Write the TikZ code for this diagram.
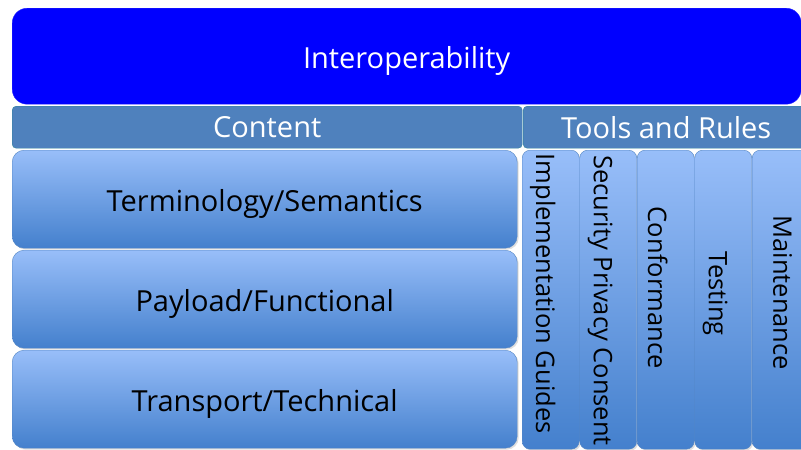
\documentclass[tikz,border=0pt]{standalone}
\usepackage{fontspec}
\setmainfont{Open Sans}
\usetikzlibrary{positioning,shadows}
\definecolor{topblue}{RGB}{152,190,249}
\definecolor{botblue}{RGB}{68,128,205}
\definecolor{edgeblue}{RGB}{84,134,196}
\definecolor{barblue}{RGB}{79,129,189}
\definecolor{baredge}{RGB}{49,133,156}
\tikzset{
	boxshadow/.style={drop shadow={shadow xshift=1.5pt, shadow yshift=-1.5pt, opacity=0.25}},
	header/.style={draw=blue!85!white, fill=blue, rounded corners=15pt, text=white, anchor=north west,
		inner sep=0pt, text height=32pt, text depth=7pt, font=\fontsize{29}{33}\selectfont},
	bar/.style={draw=baredge, fill=barblue, rounded corners=4pt, text=white, anchor=north west,
		minimum height=42pt, inner sep=0pt, font=\fontsize{29}{33}\selectfont},
	layer/.style={draw=edgeblue, top color=topblue, bottom color=botblue, rounded corners=12pt,
		anchor=north west, minimum width=505pt, minimum height=98pt, inner sep=0pt, boxshadow,
		text height=32pt, text depth=7pt, font=\fontsize{29}{33}\selectfont},
	column/.style={draw=edgeblue, top color=topblue, bottom color=botblue, rounded corners=8pt,
		anchor=north west, minimum width=57pt, minimum height=299pt, inner sep=0pt, boxshadow},
	coltext/.style={rotate=-90, inner sep=0pt, font=\fontsize{25.5}{30}\selectfont},
}
\begin{document}
\begin{tikzpicture}[x=1pt, y=-1pt]
	\clip (0,0) rectangle (801,450);
	\fill[white] (0,0) rectangle (801,450);

	% top band
	\node[header, minimum width=789pt, minimum height=96pt] (interop) at (12,8) {Interoperability};

	% the two sub headings
	\node[bar, minimum width=510pt] (content) at (12,106) {Content};
	\node[bar, minimum width=286pt] (tools) at (523,106) {Tools and Rules};

	% content layers
	\node[layer] (terms) at (12,150) {Terminology/Semantics};
	\node[layer] (payload) at (12,250) {Payload/Functional};
	\node[layer] (transport) at (12,350) {Transport/Technical};

	% tools and rules columns (name/text/nudge of the text)
	\foreach \name/\txt/\dx/\dy [count=\i from 0] in {impl/Implementation Guides/-8/6,
		spc/Security Privacy Consent/-8/-1, conf/Conformance/-8/12, test/Testing/-8/6,
		maint/Maintenance/2/7}
	{
		\node[column] (\name) at (522+57.5*\i,150) {};
		\node[coltext] (\name-txt) at ([xshift=\dx pt, yshift=\dy pt]\name.center) {\txt};
	}
\end{tikzpicture}
\end{document}
